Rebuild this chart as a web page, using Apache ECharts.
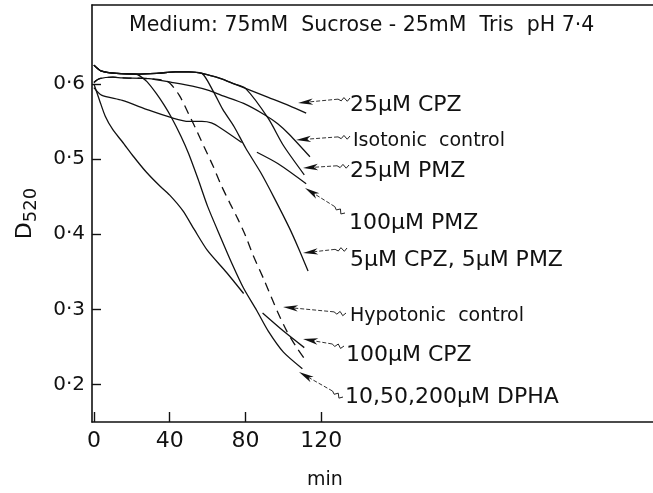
<!DOCTYPE html>
<html><head><meta charset="utf-8">
<script src="https://cdn.jsdelivr.net/npm/echarts@6/dist/echarts.min.js"></script>
<style>html,body{margin:0;padding:0;background:#fff}#c{width:653px;height:493px}</style>
</head><body><div id="c"></div>
<script>
// ---- data (time in min, D520) ----
const xTicks = [0, 40, 80, 120];
const yTicks = [0.2, 0.3, 0.4, 0.5, 0.6];

const cpz25 = [[0,0.625],[4,0.617],[12,0.614],[22,0.613],[33,0.614],[43,0.616],[50,0.616],[57,0.614],[67,0.607],[74,0.600],[80,0.594],[92,0.582],[103,0.571],[112,0.561]];
const isotonic = [[0,0.602],[3,0.607],[10,0.609],[15,0.608],[29,0.607],[41,0.602],[52,0.597],[61,0.591],[67,0.585],[79,0.574],[90,0.559],[97,0.547],[103,0.533],[114,0.503]];
const pmz25 = [[0,0.625],[4,0.617],[12,0.614],[22,0.613],[33,0.614],[43,0.616],[50,0.616],[57,0.614],[67,0.607],[74,0.600],[80,0.594],[92,0.554],[100,0.518],[111,0.479]];
const pmz100 = [[0,0.595],[4,0.585],[15,0.578],[29,0.565],[41,0.555],[50,0.550],[57,0.550],[62,0.548],[67,0.541],[78,0.522],[82,'-'],[86,0.509],[97,0.494],[112,0.467]];
const cpz5pmz5 = [[0,0.625],[4,0.617],[12,0.614],[22,0.613],[33,0.614],[43,0.616],[50,0.616],[57,0.614],[63,0.590],[68,0.566],[74,0.543],[80,0.515],[88,0.482],[95,0.449],[103,0.409],[108,0.381],[113,0.351]];
const hypotonic = [[0,0.602],[3,0.607],[10,0.609],[15,0.608],[29,0.607],[39,0.603],[45,0.585],[50,0.560],[54,0.539],[58,0.517],[63,0.490],[67,0.466],[72,0.440],[76,0.420],[80,0.398],[84,0.372],[90,0.338],[97,0.296],[102,0.270],[107,0.249],[112,0.231]];
const cpz100 = [[0,0.600],[3,0.578],[6,0.557],[10,0.539],[15,0.523],[21,0.503],[27.5,0.483],[34,0.466],[40,0.452],[47,0.431],[53,0.406],[60,0.378],[70,0.349],[79,0.321],[84,'-'],[89,0.295],[100,0.271],[111,0.249]];
const dpha = [[0,0.625],[4,0.617],[12,0.614],[22,0.613],[24,0.611],[28,0.603],[33,0.587],[37,0.572],[41,0.555],[46,0.530],[50,0.507],[55,0.473],[60,0.437],[67,0.395],[73,0.360],[79,0.328],[86,0.298],[92,0.271],[100,0.243],[110,0.221]];

const curveNames = ['25µM CPZ','Isotonic control','25µM PMZ','100µM PMZ','5µM CPZ, 5µM PMZ','Hypotonic control','100µM CPZ','10,50,200µM DPHA'];
const curveData = [cpz25, isotonic, pmz25, pmz100, cpz5pmz5, hypotonic, cpz100, dpha];

// ---- layout ----
const FONT = '"DejaVu Sans", "Liberation Sans", sans-serif';
const labelPos = [
  [350,105,22],[353,141,19],[350,171,22],[349,223,22],[350,260,22],[350,316,19],[346,355,22],[345,397,22]
];
const labelText = ['25µM CPZ','Isotonic  control','25µM PMZ','100µM PMZ','5µM CPZ, 5µM PMZ','Hypotonic  control','100µM CPZ','10,50,200µM DPHA'];
// arrows: head x,y ; tail x,y
const arrows = [
  [298,103,350,98],[296,140,350,136],[303,168,349,165],[305,188,345,213],
  [303,253,347,248],[283,307,346,313],[303,339,344,346],[299,372,343,397]
];

const chart = echarts.init(document.getElementById('c'), null, {renderer:'canvas'});

const series = curveData.map((d,i)=>({
  name: curveNames[i], type:'line', data:d, symbol:'none', smooth:0.25,
  connectNulls:false,
  lineStyle:{color:'#111', width:1.3, type: i===5 ? [9,6] : 'solid'},
  z: 3
}));

const graphics = [];
graphics.push({type:'text', x:129, y:26, style:{text:'Medium: 75mM  Sucrose - 25mM  Tris  pH 7·4', font:'20.5px '+FONT, fill:'#111', verticalAlign:'middle', align:'left'}});
graphics.push({type:'text', x:325, y:480, style:{text:'min', font:'19px '+FONT, fill:'#111', verticalAlign:'middle', align:'center'}});
labelText.forEach((t,i)=>{
  graphics.push({type:'text', x:labelPos[i][0], y:labelPos[i][1], style:{text:t, font:labelPos[i][2]+'px '+FONT, fill:'#111', verticalAlign:'middle', align:'left'}});
});
arrows.forEach(a=>{
  const hx=a[0], hy=a[1], tx=a[2], ty=a[3];
  let ux=hx-tx, uy=hy-ty; const L=Math.hypot(ux,uy); ux/=L; uy/=L;
  const nx=-uy, ny=ux;
  const p = (s,n)=>[tx+ux*s+nx*n, ty+uy*s+ny*n];
  graphics.push({type:'polyline', shape:{points:[p(0,0),p(3,-3),p(6,1),p(9,-2),p(12,0)]}, style:{stroke:'#222', lineWidth:1, fill:null}});
  graphics.push({type:'polyline', shape:{points:[p(12,0),[hx-ux*10,hy-uy*10]]}, style:{stroke:'#333', lineWidth:1, lineDash:[4,2], fill:null}});
  graphics.push({type:'polygon', shape:{points:[[hx,hy],[hx-ux*15+nx*3.2,hy-uy*15+ny*3.2],[hx-ux*11,hy-uy*11],[hx-ux*15-nx*3.2,hy-uy*15-ny*3.2]]}, style:{fill:'#111'}});
});

chart.setOption({
  animation:false,
  backgroundColor:'#fff',
  grid:{left:92, right:0, top:5, bottom:71, containLabel:false},
  xAxis:[{
    type:'value', min:-1, max:295, position:'bottom',
    axisLine:{show:true, onZero:false, lineStyle:{color:'#111', width:1.6}},
    axisTick:{show:true, inside:true, length:10, customValues:xTicks, lineStyle:{color:'#111', width:1.4}},
    axisLabel:{show:true, customValues:xTicks, margin:8, color:'#111', fontSize:22, fontFamily:FONT},
    splitLine:{show:false}
  },{
    type:'value', min:-1, max:295, position:'top',
    axisLine:{show:true, onZero:false, lineStyle:{color:'#111', width:1.6}},
    axisTick:{show:false}, axisLabel:{show:false}, splitLine:{show:false}
  }],
  yAxis:{
    type:'value', min:0.15, max:0.705,
    axisLine:{show:true, onZero:false, lineStyle:{color:'#111', width:1.6}},
    axisTick:{show:true, inside:true, length:9, customValues:yTicks, lineStyle:{color:'#111', width:1.4}},
    axisLabel:{show:true, customValues:yTicks, margin:7, color:'#111', fontSize:20, fontFamily:FONT,
      formatter:v=>v.toFixed(1).replace('.','·')},
    splitLine:{show:false},
    name:'{d|D}{s|520}', nameLocation:'middle', nameRotate:90, nameGap:52,
    nameTextStyle:{rich:{
      d:{fontSize:22, fontFamily:FONT, color:'#111', lineHeight:30, verticalAlign:'middle'},
      s:{fontSize:18, fontFamily:FONT, color:'#111', lineHeight:30, verticalAlign:'bottom', padding:[8,0,0,0]}
    }}
  },
  series: series,
  graphic: graphics
});
</script></body></html>
